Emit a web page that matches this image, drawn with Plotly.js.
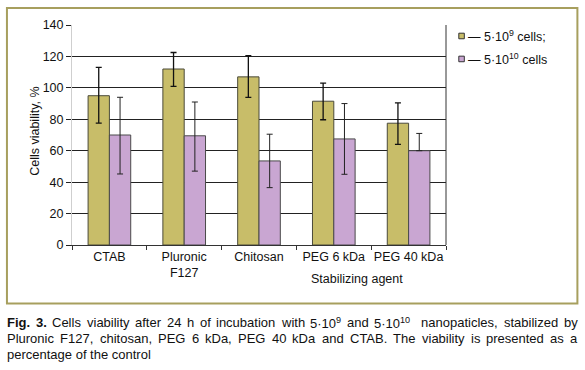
<!DOCTYPE html>
<html><head><meta charset="utf-8">
<script src="https://cdn.plot.ly/plotly-3.0.1.min.js"></script>
<style>body{margin:0;background:#fff}#chart{width:585px;height:370px}</style>
</head><body><div id="chart"></div>
<script>
const categories = ['CTAB', 'Pluronic<br>F127', 'Chitosan', 'PEG 6 kDa', 'PEG 40 kDa'];
const lowDose = [95, 112, 107, 91.5, 77.5];
const lowDoseErrPlus = [18, 10.5, 13.5, 11.5, 13];
const lowDoseErrMinus = [17.5, 11, 13, 11.8, 13.5];
const highDose = [70, 69.5, 53.5, 67.5, 60];
const highDoseErrPlus = [24, 21.5, 17, 22.5, 11];
const highDoseErrMinus = [24.8, 22.5, 17, 22.5, 0];
const seriesNames = ['— 5·10<sup>9</sup> cells;', '— 5·10<sup>10</sup> cells'];
const yTicks = [0, 20, 40, 60, 80, 100, 120, 140];

const FONT = '"Liberation Sans", Arial, Helvetica, sans-serif';
const OLIVE = '#c8bd69', PINK = '#c9a6d2';
const L = 72, R = 445.7, T = 25, B = 245.3;
const PW = R - L, PH = B - T;
const px = v => (v - L) / PW;
const py = v => (B - v) / PH;

const traces = [
  {type: 'bar', x: categories, y: lowDose, name: 'low', showlegend: false,
   marker: {color: OLIVE, line: {color: '#4a4a3a', width: 1}},
   error_y: {type: 'data', symmetric: false, array: lowDoseErrPlus, arrayminus: lowDoseErrMinus,
             color: '#111', thickness: 1.3, width: 3}},
  {type: 'bar', x: categories, y: highDose, name: 'high', showlegend: false,
   marker: {color: PINK, line: {color: '#4a4a4a', width: 1}},
   error_y: {type: 'data', symmetric: false, array: highDoseErrPlus, arrayminus: highDoseErrMinus,
             color: '#222', thickness: 1, width: 3}}
];

const shapes = [
  {type: 'rect', xref: 'paper', yref: 'paper', x0: px(7), x1: px(577), y0: py(304), y1: py(8),
   line: {color: '#a79f5e', width: 2}, layer: 'below'},
  {type: 'line', xref: 'paper', yref: 'paper', x0: 1, x1: 1, y0: 0, y1: 1,
   line: {color: '#333', width: 1}}
];
const annotations = [
  {xref: 'paper', yref: 'paper', x: px(26), y: py(131), text: 'Cells viability, %', textangle: -90,
   showarrow: false, font: {family: FONT, size: 12.5, color: '#111'}},
  {xref: 'paper', yref: 'paper', x: px(405), y: py(288), text: 'Stabilizing agent',
   showarrow: false, font: {family: FONT, size: 12.5, color: '#111'}}
];
const legendY = [36, 59];
const legendColors = [OLIVE, PINK];
for (let i = 0; i < 2; i++) {
  shapes.push({type: 'rect', xref: 'paper', yref: 'paper', x0: px(458.5), x1: px(464), y0: py(legendY[i] + 2.8), y1: py(legendY[i] - 2.8),
    fillcolor: legendColors[i], line: {color: '#333', width: 1}});
  annotations.push({xref: 'paper', yref: 'paper', x: px(466), y: py(legendY[i]), xanchor: 'left', yanchor: 'middle',
    text: seriesNames[i], showarrow: false, font: {family: FONT, size: 12.5, color: '#111'}});
}

// caption, justified
const capLines = [
  ['<b>Fig.</b>', '<b>3.</b>', 'Cells', 'viability', 'after', '24', 'h', 'of', 'incubation', 'with', '5·10<sup>9</sup>', 'and', '5·10<sup>10</sup>', '', 'nanopaticles,', 'stabilized', 'by'],
  ['Pluronic', 'F127,', 'chitosan,', 'PEG', '6', 'kDa,', 'PEG', '40', 'kDa', 'and', 'CTAB.', 'The', 'viability', 'is', 'presented', 'as', 'a'],
  ['percentage of the control']
];
const capY = [323, 339, 355];
const CAPSIZE = 13;
const meas = document.createElement('span');
meas.style.cssText = 'position:absolute;visibility:hidden;white-space:pre;font-family:' + FONT + ';font-size:' + CAPSIZE + 'px';
document.body.appendChild(meas);
function w(html) { meas.innerHTML = html.replace(/<sup>/g, '<sup style="font-size:70%">'); return meas.getBoundingClientRect().width; }
capLines.forEach((words, li) => {
  const justify = li < capLines.length - 1;
  const widths = words.map(wd => wd === '' ? 0 : w(wd));
  const total = widths.reduce((a, b) => a + b, 0);
  const gap = justify ? (577 - 7 - total) / (words.length - 1) : 0;
  let x = 7;
  words.forEach((wd, k) => {
    if (wd !== '') annotations.push({xref: 'paper', yref: 'paper', x: px(x - 1), y: py(capY[li]), xanchor: 'left', yanchor: 'middle',
      text: wd, showarrow: false, borderpad: 0, font: {family: FONT, size: CAPSIZE, color: '#111'}});
    x += widths[k] + gap;
  });
});
meas.remove();

const layout = {
  width: 585, height: 370,
  margin: {l: L, r: 585 - R, t: T, b: 370 - B, pad: 0},
  paper_bgcolor: '#fff', plot_bgcolor: '#fff',
  font: {family: FONT, size: 12.5, color: '#111'},
  barmode: 'group', bargap: 0.43, bargroupgap: 0,
  xaxis: {type: 'category', tickson: 'boundaries', ticks: 'outside', ticklen: 4, tickcolor: '#333',
          tickangle: 0, automargin: false,
          showline: true, linecolor: '#333', linewidth: 1, showgrid: false,
          tickfont: {family: FONT, size: 12.5, color: '#111'}},
  yaxis: {range: [0, 140], tickvals: yTicks, ticks: 'outside', ticklen: 5, tickcolor: '#222',
          showgrid: true, gridcolor: '#222', gridwidth: 1, zeroline: false, automargin: false,
          showline: true, linecolor: '#cfcfcf', linewidth: 1,
          tickfont: {family: FONT, size: 12.5, color: '#111'}},
  shapes: shapes, annotations: annotations, showlegend: false
};
Plotly.newPlot('chart', traces, layout, {displayModeBar: false, staticPlot: true});
</script></body></html>
